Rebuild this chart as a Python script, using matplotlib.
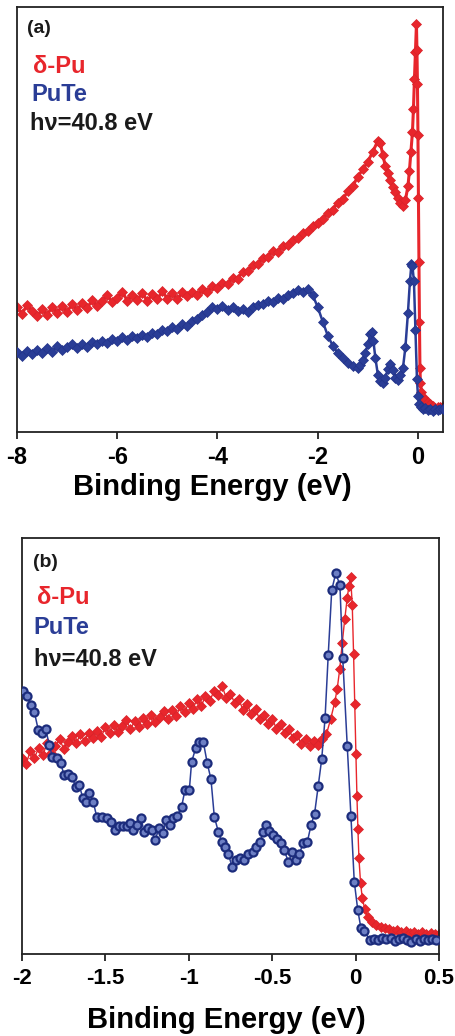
import matplotlib.pyplot as plt
import numpy as np

plt.rcParams['font.family'] = ['Liberation Sans', 'DejaVu Sans']
plt.rcParams['font.weight'] = 'bold'
plt.rcParams['axes.unicode_minus'] = False

RED = '#e8262c'
BLUE = '#2a3d96'

# ---- panel (a): wide range, hv = 40.8 eV ----
a_pu_e = [-8.0, -7.9, -7.8, -7.7, -7.6, -7.5, -7.4, -7.3, -7.2, -7.1,
          -7.0, -6.9, -6.8, -6.7, -6.6, -6.5, -6.4, -6.3, -6.2, -6.1,
          -6.0, -5.9, -5.8, -5.7, -5.6, -5.5, -5.4, -5.3, -5.2, -5.1,
          -5.0, -4.9, -4.8, -4.7, -4.6, -4.5, -4.4, -4.3, -4.2, -4.1,
          -4.0, -3.9, -3.8, -3.7, -3.6, -3.5, -3.4, -3.3, -3.2, -3.1,
          -3.0, -2.9, -2.8, -2.7, -2.6, -2.5, -2.4, -2.3, -2.2, -2.1,
          -2.0, -1.9, -1.8, -1.7, -1.6, -1.5, -1.4, -1.3,
          -1.2, -1.1, -1.0, -0.9, -0.8, -0.75, -0.7, -0.65, -0.6, -0.55,
          -0.5, -0.45, -0.4, -0.35, -0.3, -0.25, -0.2, -0.17, -0.14, -0.11,
          -0.09, -0.07, -0.05, -0.03, -0.02, -0.01, 0.0, 0.01, 0.02, 0.03,
          0.04, 0.05, 0.07, 0.1, 0.15, 0.2, 0.25, 0.3, 0.35, 0.4, 0.45, 0.5]
a_pu_i = [29.5, 27.8, 29.9, 28.4, 27.2, 28.9, 27.6, 29.4, 28.1, 29.6,
          28.3, 30.1, 28.7, 30.4, 29.2, 31.0, 29.6, 30.8, 32.3, 30.5,
          31.6, 33.0, 30.9, 32.2, 31.0, 32.8, 30.8, 32.5, 31.3, 33.1,
          31.4, 32.6, 31.2, 32.9, 31.9, 33.0, 32.2, 33.6, 33.0, 34.3,
          33.9, 35.1, 34.9, 36.3, 36.1, 37.6, 37.8, 39.2, 39.6, 40.9,
          41.2, 42.6, 42.4, 43.8, 43.9, 45.3, 45.6, 46.9, 47.3, 48.4,
          49.2, 50.1, 51.6, 52.3, 54.0, 54.8, 56.6, 57.9,
          60.1, 61.8, 63.6, 66.0, 68.5, 67.9, 65.2, 62.5, 61.0, 59.2,
          57.6, 56.4, 55.0, 53.8, 53.2, 54.6, 57.8, 61.5, 66.0, 70.5,
          76.0, 83.0, 89.5, 96.0, 90.0, 82.0, 70.0, 55.0, 40.0, 26.0,
          15.0, 11.5, 9.5, 8.3, 7.6, 7.0, 6.6, 6.2, 5.6, 6.0, 5.8, 6.1]

a_te_e = [-8.0, -7.9, -7.8, -7.7, -7.6, -7.5, -7.4, -7.3, -7.2, -7.1,
          -7.0, -6.9, -6.8, -6.7, -6.6, -6.5, -6.4, -6.3, -6.2, -6.1,
          -6.0, -5.9, -5.8, -5.7, -5.6, -5.5, -5.4, -5.3, -5.2, -5.1,
          -5.0, -4.9, -4.8, -4.7, -4.6, -4.5, -4.4, -4.3, -4.2, -4.1,
          -4.0, -3.9, -3.8, -3.7, -3.6, -3.5, -3.4, -3.3, -3.2, -3.1,
          -3.0, -2.9, -2.8, -2.7, -2.6, -2.5, -2.4, -2.3, -2.2, -2.1,
          -2.0, -1.9, -1.8, -1.7, -1.6, -1.5, -1.4, -1.3,
          -1.2, -1.15, -1.1, -1.05, -1.0, -0.95, -0.92, -0.89, -0.85, -0.8,
          -0.75, -0.7, -0.65, -0.6, -0.55, -0.5, -0.45, -0.4, -0.35, -0.3,
          -0.25, -0.2, -0.16, -0.13, -0.11, -0.08, -0.05, -0.02, 0.0, 0.03,
          0.06, 0.1, 0.15, 0.2, 0.25, 0.3, 0.35, 0.4, 0.45, 0.5]
a_te_i = [18.9, 18.0, 19.1, 18.3, 19.4, 18.7, 19.8, 18.9, 20.2, 19.3,
          19.9, 20.6, 19.7, 20.8, 20.1, 21.2, 20.6, 21.5, 21.0, 21.9,
          21.4, 22.3, 21.7, 22.6, 22.1, 22.9, 22.4, 23.4, 23.0, 24.1,
          23.7, 24.6, 24.3, 25.4, 25.0, 26.1, 26.6, 27.5, 28.3, 29.4,
          29.0, 29.6, 28.7, 29.3, 28.4, 28.9, 28.3, 29.5, 29.8, 30.2,
          30.9, 30.6, 31.5, 31.2, 32.3, 32.6, 33.4, 33.0, 33.6, 32.2,
          29.4, 26.0, 22.7, 20.3, 18.6, 17.3, 16.2, 15.6,
          15.0, 15.8, 17.0, 18.6, 20.6, 23.0, 23.6, 21.5, 17.5, 13.5,
          12.0, 11.6, 12.8, 14.8, 15.9, 14.6, 12.8, 12.2, 13.4, 15.0,
          20.0, 28.0, 35.5, 39.5, 39.0, 35.5, 24.0, 12.5, 8.5, 6.5,
          5.8, 5.5, 5.6, 5.2, 5.4, 5.0, 5.3, 5.1, 5.4, 5.3]

# ---- panel (b): near the Fermi level ----
b_pu_e = [-2.000, -1.975, -1.950, -1.925, -1.900, -1.875, -1.850, -1.825, -1.800, -1.775,
          -1.750, -1.725, -1.700, -1.675, -1.650, -1.625, -1.600, -1.575, -1.550, -1.525,
          -1.500, -1.475, -1.450, -1.425, -1.400, -1.375, -1.350, -1.325, -1.300, -1.275,
          -1.250, -1.225, -1.200, -1.175, -1.150, -1.125, -1.100, -1.075, -1.050, -1.025,
          -1.000, -0.975, -0.950, -0.925, -0.900, -0.875, -0.850, -0.825, -0.800, -0.775,
          -0.750, -0.725, -0.700, -0.675, -0.650, -0.625, -0.600, -0.575, -0.550, -0.525,
          -0.500, -0.475, -0.450, -0.425, -0.400, -0.375, -0.350, -0.325, -0.300, -0.275,
          -0.250, -0.225, -0.200, -0.175, -0.150,
          -0.125, -0.110, -0.095, -0.080, -0.065, -0.050, -0.040, -0.030, -0.020, -0.012,
          -0.005, 0.002, 0.008, 0.014, 0.020, 0.030, 0.040, 0.055, 0.075,
          0.100, 0.125, 0.150, 0.175, 0.200, 0.225, 0.250, 0.275, 0.300, 0.325,
          0.350, 0.375, 0.400, 0.425, 0.450, 0.475, 0.500]
b_pu_i = [47.0, 45.6, 48.9, 47.2, 49.5, 47.8, 50.6, 48.4, 49.9, 51.7,
          49.3, 51.0, 52.4, 50.6, 52.8, 51.3, 53.2, 51.9, 53.6, 52.2,
          54.5, 53.0, 55.1, 53.3, 54.8, 56.3, 54.1, 55.9, 54.6, 56.8,
          55.2, 57.4, 55.8, 57.0, 58.4, 56.5, 58.6, 57.3, 59.5, 58.2,
          60.3, 59.0, 61.2, 59.7, 61.9, 60.8, 63.1, 62.2, 64.4, 61.5,
          62.6, 60.3, 61.2, 58.7, 60.1, 57.6, 58.8, 56.4, 57.5, 55.3,
          56.6, 54.2, 55.3, 53.0, 54.1, 51.8, 52.6, 50.4, 51.7, 49.9,
          51.2, 50.3, 51.6, 52.8, 56.4,
          60.5, 63.8, 68.5, 74.8, 80.5, 85.6, 88.5, 90.6, 84.0, 72.0,
          60.0, 48.0, 38.0, 30.0, 23.0, 17.0, 13.5, 10.8, 8.8,
          7.6, 7.0, 6.4, 6.3, 5.9, 5.6, 5.8, 5.3, 5.5, 5.1,
          5.3, 4.9, 5.2, 4.8, 5.0, 4.7, 4.9]

b_te_e = [-1.992, -1.972, -1.948, -1.926, -1.902, -1.882, -1.858, -1.836, -1.818, -1.792,
          -1.768, -1.748, -1.726, -1.702, -1.676, -1.656, -1.636, -1.616, -1.597, -1.573,
          -1.552, -1.522, -1.492, -1.466, -1.442, -1.418, -1.396, -1.372, -1.353, -1.333,
          -1.309, -1.287, -1.267, -1.243, -1.222, -1.203, -1.177, -1.153, -1.137, -1.113,
          -1.093, -1.069, -1.043, -1.023, -0.997, -0.983, -0.959, -0.937, -0.913, -0.889,
          -0.867, -0.847, -0.823, -0.803, -0.783, -0.763, -0.739, -0.717, -0.693, -0.669,
          -0.643, -0.617, -0.597, -0.573, -0.553, -0.537, -0.517, -0.493, -0.473, -0.449,
          -0.429, -0.403, -0.379, -0.357, -0.338, -0.314, -0.290, -0.267, -0.246, -0.224,
          -0.203, -0.183, -0.164, -0.143, -0.119, -0.094, -0.077, -0.050, -0.028, -0.008,
          0.013, 0.032, 0.052, 0.086, 0.110, 0.135, 0.160, 0.185, 0.210, 0.235,
          0.260, 0.285, 0.310, 0.335, 0.360, 0.385, 0.410, 0.435, 0.460, 0.485]
b_te_i = [63.2, 61.9, 59.9, 58.2, 53.8, 53.1, 54.1, 50.2, 47.4, 47.1,
          45.9, 43.0, 43.3, 42.5, 40.2, 40.6, 37.5, 36.6, 38.7, 36.6,
          33.0, 33.0, 32.7, 31.8, 29.8, 30.8, 30.8, 30.8, 31.4, 29.8,
          31.0, 32.8, 29.2, 30.2, 29.8, 27.4, 30.2, 29.1, 32.2, 31.0,
          32.6, 33.2, 35.4, 39.4, 39.3, 46.2, 49.4, 51.0, 51.0, 45.8,
          42.0, 33.0, 29.4, 27.0, 25.8, 24.0, 20.8, 22.6, 23.0, 22.6,
          24.0, 24.6, 25.8, 27.0, 29.2, 31.0, 29.6, 28.6, 27.6, 26.6,
          25.0, 22.2, 24.4, 22.6, 24.0, 26.6, 26.8, 31.0, 33.7, 40.4,
          46.9, 56.7, 71.9, 87.5, 91.5, 88.7, 71.1, 50.0, 33.2, 17.4,
          10.6, 6.2, 5.4, 3.4, 3.7, 3.3, 3.9, 3.5, 3.8, 3.2,
          3.6, 3.9, 3.4, 2.9, 3.5, 3.1, 3.7, 3.3, 3.6, 3.4]

a_ticks = [-8, -6, -4, -2, 0]
b_ticks = [-2, -1.5, -1, -0.5, 0, 0.5]
b_ticklabels = ['-2', '-1.5', '-1', '-0.5', '0', '0.5']

fig = plt.figure(figsize=(4.56, 10.36), dpi=100)
ax_a = fig.add_axes([0.0373, 0.583, 0.9342, 0.4102])
ax_b = fig.add_axes([0.0482, 0.0792, 0.9145, 0.4015])

# panel (a)
ax_a.plot(a_pu_e, a_pu_i, color=RED, lw=2.2, marker='D', ms=5.0,
          mec='#d8232a', mfc=RED, mew=0.5, zorder=2)
ax_a.plot(a_te_e, a_te_i, color=BLUE, lw=1.8, marker='D', ms=4.6,
          mec='#22348a', mfc=BLUE, mew=0.5, zorder=3)
ax_a.set_xlim(-8, 0.5)
ax_a.set_ylim(0, 100)
ax_a.set_xticks(a_ticks)
ax_a.set_xticklabels([str(t) for t in a_ticks])

# panel (b)
ax_b.plot(b_pu_e, b_pu_i, color=RED, lw=1.0, marker='D', ms=4.6,
          mec='#d8232a', mfc=RED, mew=0.5, zorder=2)
ax_b.plot(b_te_e, b_te_i, color=BLUE, lw=1.1, marker='o', ms=5.8,
          mec='#1c2c7c', mfc='#6d7fc4', mew=1.6, zorder=3)
ax_b.set_xlim(-2, 0.5)
ax_b.set_ylim(0, 100)
ax_b.set_xticks(b_ticks)
ax_b.set_xticklabels(b_ticklabels)

panels = [(ax_a, '(a)', 17, -0.129, 0.458,
           [(0.0235, 0.950), (0.0376, 0.861), (0.033, 0.795), (0.0305, 0.727)]),
          (ax_b, '(b)', 16, -0.159, 0.49,
           [(0.0264, 0.940), (0.036, 0.856), (0.0264, 0.786), (0.0288, 0.707)])]

for ax, tag, tick_fs, lab_y, lab_x, pos in panels:
    ax.set_yticks([])
    for s in ax.spines.values():
        s.set_linewidth(1.3)
        s.set_color('#222222')
    ax.tick_params(axis='x', direction='out', length=5, width=1.3,
                   labelsize=tick_fs, pad=5, color='#222222')
    for lab in ax.get_xticklabels():
        lab.set_fontweight('bold')
    ax.set_xlabel('Binding Energy (eV)', fontsize=21, fontweight='bold')
    ax.xaxis.set_label_coords(lab_x, lab_y)
    ax.xaxis.label.set_va('center')
    ax.text(pos[0][0], pos[0][1], tag, transform=ax.transAxes, fontsize=14,
            fontweight='bold', color='#1a1a1a', va='center', ha='left')
    ax.text(pos[1][0], pos[1][1], 'δ-Pu', transform=ax.transAxes, fontsize=17,
            fontweight='bold', color=RED, va='center', ha='left')
    ax.text(pos[2][0], pos[2][1], 'PuTe', transform=ax.transAxes, fontsize=17,
            fontweight='bold', color=BLUE, va='center', ha='left')
    ax.text(pos[3][0], pos[3][1], 'hν=40.8 eV', transform=ax.transAxes, fontsize=17,
            fontweight='bold', color='#1a1a1a', va='center', ha='left')

fig.savefig('out.png', dpi=100)
